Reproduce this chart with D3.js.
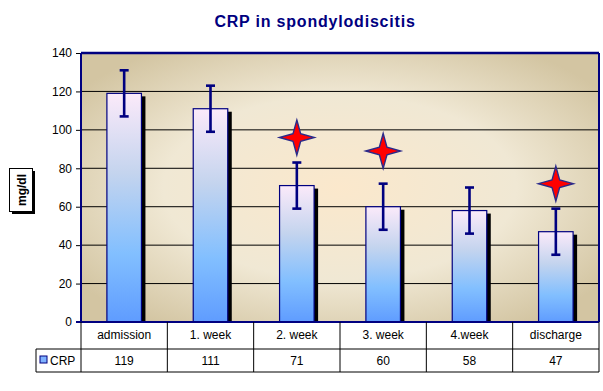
<!DOCTYPE html>
<html><head><meta charset="utf-8">
<script src="https://cdn.jsdelivr.net/npm/d3@7"></script>
<style>body{margin:0;background:#fff;}svg{display:block;font-family:Arial,"Liberation Sans",sans-serif;}</style>
</head><body>
<svg id="c" width="603" height="391"></svg>
<script>
const categories = ["admission","1. week","2. week","3. week","4.week","discharge"];
const crp = [119,111,71,60,58,47];
const errors = [12,12,12,12,12,12];
const starValues = [null,null,96,89,null,72];
const yTicks = [0,20,40,60,80,100,120,140];
const seriesName = "CRP";

const svg = d3.select("#c");
const L = 81, R = 599, T = 53, B = 322;
const x = d3.scaleBand().domain(categories).range([L,R]).paddingInner(0.6).paddingOuter(0.3);
const xb = d3.scaleBand().domain(categories).range([L,R]);
const y = d3.scaleLinear().domain([0,140]).range([B,T]);

const defs = svg.append("defs");
const rg = defs.append("radialGradient").attr("id","bg").attr("cx","0.5").attr("cy","0.5").attr("r","0.62")
  .attr("gradientUnits","objectBoundingBox");
rg.append("stop").attr("offset","0").attr("stop-color","#fbe8cc");
rg.append("stop").attr("offset","0.55").attr("stop-color","#f0e8d4");
rg.append("stop").attr("offset","1").attr("stop-color","#d3c5a2");
const bgr = defs.append("linearGradient").attr("id","bar").attr("x1",0).attr("y1",0).attr("x2",0).attr("y2",1);
bgr.append("stop").attr("offset","0").attr("stop-color","#fbeafa");
bgr.append("stop").attr("offset","0.35").attr("stop-color","#c4d4ee");
bgr.append("stop").attr("offset","0.7").attr("stop-color","#82bfff");
bgr.append("stop").attr("offset","1").attr("stop-color","#5f9cff");

// title
svg.append("text").attr("x",315).attr("y",27).attr("text-anchor","middle")
  .attr("font-size",16).attr("font-weight","bold").attr("letter-spacing","0.8")
  .attr("fill","#000080").text("CRP in spondylodiscitis");

// plot bg
svg.append("rect").attr("x",L).attr("y",T).attr("width",R-L).attr("height",B-T).attr("fill","url(#bg)");

// grid
svg.append("g").selectAll("line").data(yTicks.filter(d=>d>0 && d<140)).join("line")
  .attr("x1",L).attr("x2",R).attr("y1",d=>y(d)).attr("y2",d=>y(d)).attr("stroke","#000").attr("stroke-width",1);

// y axis
const ya = svg.append("g").attr("transform",`translate(${L},0)`)
  .call(d3.axisLeft(y).tickValues(yTicks).tickSize(5).tickPadding(4));
ya.select(".domain").remove();
ya.selectAll("line").attr("stroke","#000");
ya.selectAll("text").attr("font-size",12).attr("fill","#000").attr("font-family","Arial, Liberation Sans, sans-serif");

// bars shadow
svg.append("g").selectAll("rect").data(crp).join("rect")
  .attr("x",(d,i)=>x(categories[i])+4).attr("y",d=>y(d)+3)
  .attr("width",x.bandwidth()).attr("height",d=>B-y(d)-3).attr("fill","#000");
// bars
svg.append("g").selectAll("rect").data(crp).join("rect")
  .attr("x",(d,i)=>x(categories[i])).attr("y",d=>y(d))
  .attr("width",x.bandwidth()).attr("height",d=>B-y(d))
  .attr("fill","url(#bar)").attr("stroke","#000080").attr("stroke-width",1.2);

// error bars
const eg = svg.append("g").attr("stroke","#000080").attr("stroke-width",2.6);
crp.forEach((v,i)=>{
  const cx = x(categories[i]) + x.bandwidth()/2;
  eg.append("line").attr("x1",cx).attr("x2",cx).attr("y1",y(v+errors[i])).attr("y2",y(v-errors[i]));
  eg.append("line").attr("x1",cx-4.5).attr("x2",cx+4.5).attr("y1",y(v+errors[i])).attr("y2",y(v+errors[i]));
  eg.append("line").attr("x1",cx-4.5).attr("x2",cx+4.5).attr("y1",y(v-errors[i])).attr("y2",y(v-errors[i]));
});

// stars (4-point)
const starPath = (cx,cy,r,k)=>{
  const pts=[[0,-r],[k,-k],[r,0],[k,k],[0,r],[-k,k],[-r,0],[-k,-k]];
  return "M"+pts.map(p=>[cx+p[0],cy+p[1]].join(",")).join("L")+"Z";
};
starValues.forEach((v,i)=>{
  if(v==null) return;
  const cx = x(categories[i]) + x.bandwidth()/2;
  svg.append("path").attr("d",starPath(cx,y(v),17.5,3.8)).attr("fill","#ff0000")
    .attr("stroke","#2a2a8a").attr("stroke-width",1.4).attr("stroke-linejoin","miter");
});

// plot border
svg.append("line").attr("x1",L).attr("x2",R).attr("y1",T).attr("y2",T).attr("stroke","#000080").attr("stroke-width",2.5);
svg.append("line").attr("x1",L).attr("x2",L).attr("y1",T).attr("y2",B).attr("stroke","#000080").attr("stroke-width",2);
svg.append("line").attr("x1",R).attr("x2",R).attr("y1",T).attr("y2",B).attr("stroke","#000080").attr("stroke-width",2);
svg.append("line").attr("x1",L-5).attr("x2",R).attr("y1",B).attr("y2",B).attr("stroke","#000080").attr("stroke-width",2);

// data table
const tb = svg.append("g").attr("stroke","#000").attr("stroke-width",1);
const r1 = 349, r2 = 372, legL = 36;
tb.append("line").attr("x1",legL).attr("x2",R).attr("y1",r1).attr("y2",r1);
tb.append("line").attr("x1",legL).attr("x2",R).attr("y1",r2).attr("y2",r2);
tb.append("line").attr("x1",legL).attr("x2",legL).attr("y1",r1).attr("y2",r2);
const bounds = categories.map(c=>xb(c)).concat([R]);
bounds.forEach(bx=>tb.append("line").attr("x1",bx).attr("x2",bx).attr("y1",B).attr("y2",r2));
svg.append("g").selectAll("text").data(categories).join("text")
  .attr("x",d=>xb(d)+xb.bandwidth()/2).attr("y",339).attr("text-anchor","middle")
  .attr("font-size",12).attr("fill","#000").text(d=>d);
svg.append("g").selectAll("text").data(crp).join("text")
  .attr("x",(d,i)=>xb(categories[i])+xb.bandwidth()/2).attr("y",365).attr("text-anchor","middle")
  .attr("font-size",12).attr("fill","#000").text(d=>d);
svg.append("rect").attr("x",40).attr("y",356).attr("width",7).attr("height",7)
  .attr("fill","#7fb2ff").attr("stroke","#000080").attr("stroke-width",1);
svg.append("text").attr("x",50).attr("y",365).attr("font-size",12).attr("fill","#000").text(seriesName);

// y title box
svg.append("rect").attr("x",12).attr("y",171).attr("width",23).attr("height",43).attr("fill","#000");
svg.append("rect").attr("x",9.5).attr("y",168.5).attr("width",23).attr("height",43).attr("fill","#fff").attr("stroke","#000").attr("stroke-width",1);
svg.append("text").attr("transform","translate(25.5,190) rotate(-90)").attr("text-anchor","middle")
  .attr("font-size",12).attr("font-weight","bold").attr("fill","#000").text("mg/dl");
</script>
</body></html>
